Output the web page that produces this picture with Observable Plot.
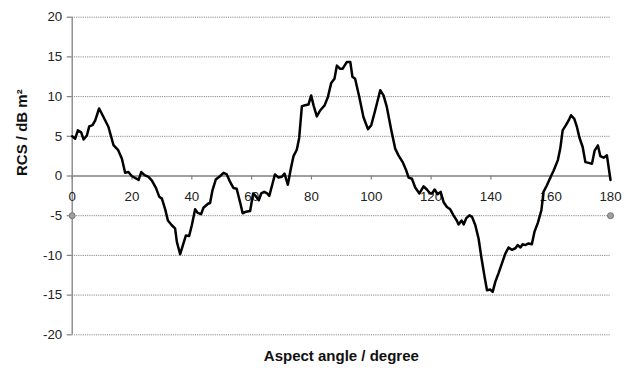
<!DOCTYPE html>
<html>
<head>
<meta charset="utf-8">
<script src="https://cdn.jsdelivr.net/npm/d3@7"></script>
<script src="https://cdn.jsdelivr.net/npm/@observablehq/plot@0.6"></script>
<style>
  html, body { margin: 0; padding: 0; background: #fff; }
  #chart svg { display: block; }
</style>
</head>
<body>
<div id="chart"></div>
<script>
// Aspect angle (degree) and RCS (dB m^2)
const angles = [0, 1, 1.9, 3, 3.8, 4.9, 5.7, 6.8, 7.7, 9.0, 10.5, 12.1, 13.8, 15.3, 16.6, 17.7, 18.8, 19.9,
  21.6, 22.2, 23.1, 24.2, 25.5, 26.6, 28, 29.1, 30, 31.1, 32, 33.3, 34.4, 35, 36.1, 37.2, 38, 39.1, 40,
  41.1, 42, 43.1, 43.9, 45.4, 46.1, 46.9, 48, 49.5, 50.6, 51.7, 52.8, 53.9, 55, 56.2, 57, 58.1, 59.5,
  60.5, 61.5, 62.4, 63.2, 64.2, 65.2, 65.9, 67, 67.8, 69, 70.1, 71, 72.1, 73.2, 74, 75.1, 75.9, 76.8,
  77.9, 79, 79.9, 80.7, 81.8, 82.9, 84.4, 85.5, 86.6, 87.7, 88.5, 89.6, 90.4, 91.8, 93, 93.7, 94.6, 96,
  97.4, 98.9, 100, 101.3, 103, 104.1, 105.2, 106.7, 108, 109.1, 110.5, 111.6, 112.5, 113.6, 114.7, 116.1,
  117.5, 118.6, 119.7, 120.3, 121.2, 122.2, 123.2, 124.2, 125.3, 126.4, 127.5, 128.6, 129.2, 130.2, 130.9,
  131.8, 132.8, 133.7, 134.8, 135.9, 136.8, 137.9, 138.7, 139.8, 140.6, 141.5, 142.6, 143.7, 144.8, 145.9,
  147, 148.2, 149, 149.9, 150.6, 151.5, 152.6, 153.7, 154.6, 155.7, 156.9, 157.6, 158.7, 159.9, 161,
  162.4, 163.2, 164, 165.1, 166, 166.8, 167.9, 168.8, 169.6, 170.7, 171.6, 172.7, 173.8, 174.7, 175.8,
  176.6, 177.7, 178.8, 180];
const rcs = [5.0, 4.7, 5.75, 5.5, 4.6, 5.1, 6.25, 6.4, 7.0, 8.5, 7.4, 6.2, 3.9, 3.3, 2.2, 0.4, 0.5, 0.0,
  -0.35, -0.5, 0.5, 0.1, -0.1, -0.55, -1.5, -2.6, -2.85, -4.2, -5.6, -6.2, -6.6, -8.3, -9.85, -8.5, -7.5, -7.55, -6.2,
  -4.2, -4.65, -4.8, -4.0, -3.5, -3.4, -1.8, -0.45, 0.0, 0.4, 0.2, -0.75, -1.5, -1.6, -3.4, -4.7, -4.5, -4.4,
  -2.2, -2.6, -3.05, -2.2, -2.0, -2.2, -2.5, -0.95, 0.2, -0.2, -0.1, 0.3, -1.1, 1.1, 2.5, 3.3, 4.8, 8.8,
  8.9, 9.0, 10.15, 8.9, 7.5, 8.25, 8.9, 9.95, 11.7, 12.25, 13.9, 13.5, 13.5, 14.35, 14.35, 12.5, 12.25, 9.95,
  7.4, 5.9, 6.4, 8.25, 10.8, 10.15, 8.7, 5.75, 3.45, 2.6, 1.75, 0.8, -0.2, -0.35, -1.45, -2.2,
  -1.3, -1.7, -2.2, -2.2, -1.7, -2.3, -2.0, -3.3, -3.9, -4.2, -4.95, -5.6, -6.1, -5.6, -6.1,
  -5.3, -4.95, -5.15, -6.2, -7.9, -10.2, -12.7, -14.4, -14.3, -14.6, -13.3, -12.2, -11.0, -9.8, -9.0,
  -9.3, -9.1, -8.7, -9.0, -8.6, -8.7, -8.5, -8.6, -7.0, -5.9, -4.3, -2.0, -1.2, -0.2, 0.7,
  2.0, 3.45, 5.75, 6.4, 7.0, 7.65, 7.2, 6.15, 4.85, 3.65, 1.75, 1.65, 1.55, 3.2, 3.85,
  2.5, 2.3, 2.6, -0.5];

// second series: two grey markers
const markerAngles = [0, 180];
const markerValues = [-5, -5];

const xTicks = [0, 20, 40, 60, 80, 100, 120, 140, 160, 180];
const yTicks = [-20, -15, -10, -5, 0, 5, 10, 15, 20];
const xLabel = "Aspect angle / degree";
const yLabel = "RCS / dB m²";

const data = angles.map((a, i) => ({angle: a, rcs: rcs[i]}));
const markers = markerAngles.map((a, i) => ({angle: a, v: markerValues[i]}));
const gridVals = yTicks.filter(v => v !== 0);

const chart = Plot.plot({
  width: 637,
  height: 369,
  marginLeft: 71.7,
  marginRight: 27,
  marginTop: 16.7,
  marginBottom: 34.7,
  style: {fontFamily: "'Liberation Sans', Arial, sans-serif", background: "#fff"},
  x: {domain: [0, 180], axis: null},
  y: {domain: [-20, 20], axis: null},
  marks: [
    Plot.ruleY(gridVals, {stroke: "#8a8a8a", strokeWidth: 1, strokeDasharray: "1.2,1"}),
    Plot.ruleY([0], {stroke: "#808080", strokeWidth: 1.3}),
    Plot.ruleX([0], {stroke: "#808080", strokeWidth: 1.3}),
    Plot.ruleY(yTicks, {y: d => d, x1: 0, x2: 0, insetLeft: -5, stroke: "#808080", strokeWidth: 1.2}),
    Plot.text(yTicks, {y: d => d, x: 0, dx: -10, textAnchor: "end", text: d => String(d), fontSize: 13.3, fill: "#222"}),
    Plot.ruleX(xTicks, {x: d => d, y1: 0, y2: 0, insetBottom: -4, stroke: "#808080", strokeWidth: 1.2}),
    Plot.text(xTicks, {x: d => d, y: 0, dy: 21, text: d => String(d), fontSize: 13.3, fill: "#222"}),
    Plot.text([xLabel], {frameAnchor: "bottom", dy: 26, text: d => d, fontSize: 15, fontWeight: "bold", fill: "#111"}),
    Plot.text([yLabel], {frameAnchor: "left", dx: -50, rotate: -90, text: d => d, fontSize: 15, fontWeight: "bold", fill: "#111"}),
    Plot.line(data, {x: "angle", y: "rcs", stroke: "#000", strokeWidth: 2.5, strokeLinejoin: "round"}),
    Plot.dot(markers, {x: "angle", y: "v", r: 3, fill: "#a0a0a0", stroke: "#707070", strokeWidth: 1})
  ]
});
document.getElementById("chart").appendChild(chart);
</script>
</body>
</html>
